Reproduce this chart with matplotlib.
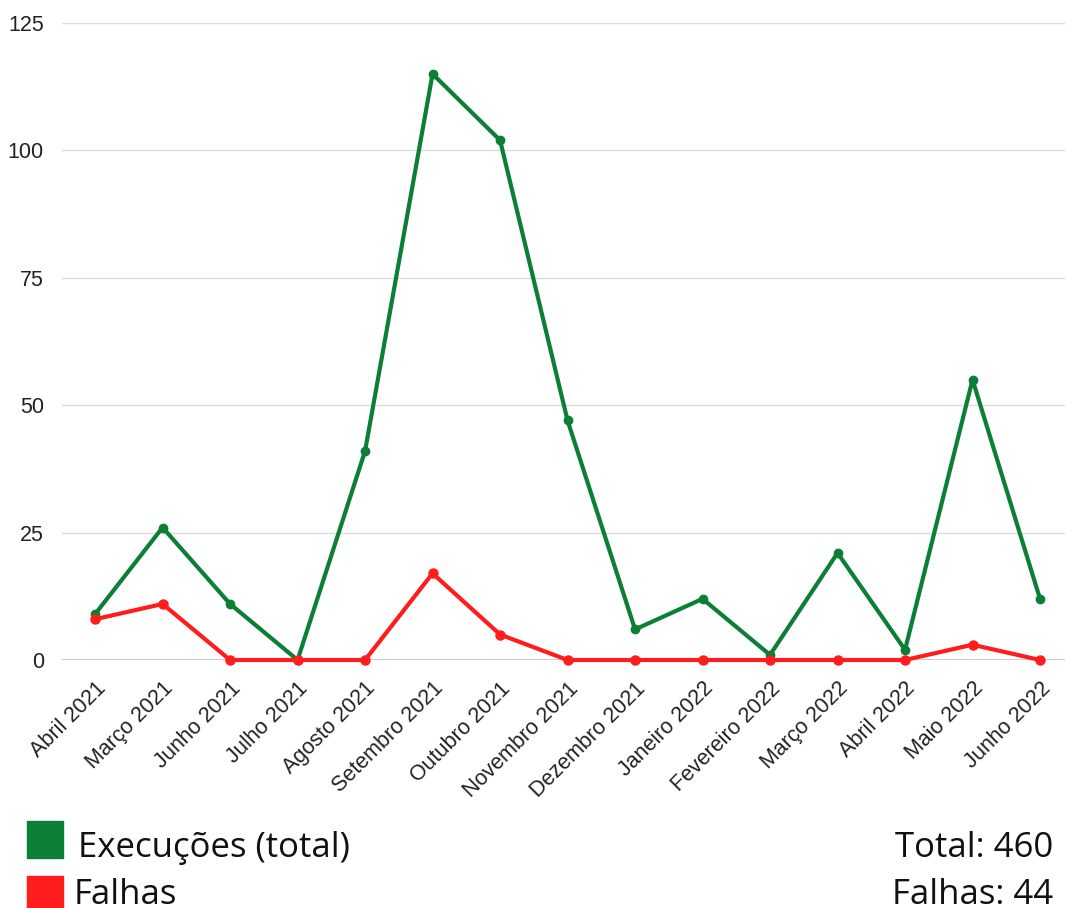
import matplotlib.pyplot as plt
from matplotlib.patches import Rectangle

# monthly data
months = ['Abril 2021', 'Março 2021', 'Junho 2021', 'Julho 2021', 'Agosto 2021',
          'Setembro 2021', 'Outubro 2021', 'Novembro 2021', 'Dezembro 2021',
          'Janeiro 2022', 'Fevereiro 2022', 'Março 2022', 'Abril 2022',
          'Maio 2022', 'Junho 2022']
execucoes = [9, 26, 11, 0, 41, 115, 102, 47, 6, 12, 1, 21, 2, 55, 12]
falhas = [8, 11, 0, 0, 0, 17, 5, 0, 0, 0, 0, 0, 0, 3, 0]
yticks = [0, 25, 50, 75, 100, 125]

green = '#0a7f35'
red = '#ff1c1c'

fig = plt.figure(figsize=(10.65, 9.08), dpi=100)
ax = fig.add_axes([62 / 1065, 248 / 908, 1003 / 1065, 637 / 908])

x = list(range(len(months)))
ax.plot(x, execucoes, color=green, lw=3, marker='o', ms=6, zorder=3, clip_on=False)
ax.plot(x, falhas, color=red, lw=3, marker='o', ms=6.5, zorder=4, clip_on=False)

ax.set_xlim(-0.49, 14.37)
ax.set_ylim(0, 125)
ax.set_yticks(yticks)
ax.set_xticks(x)
ax.set_xticklabels(months, rotation=45, ha='right', rotation_mode='anchor',
                   fontsize=15.5, family='Liberation Sans', color='#222222')
for lab in ax.get_yticklabels():
    lab.set_family('Liberation Sans')
ax.tick_params(axis='y', labelsize=15.5, length=0, pad=13, colors='#222222')
ax.tick_params(axis='x', length=0, pad=13)
ax.grid(axis='y', color='#dcdcdc', lw=1)
ax.axhline(0, color='#c0c0c0', lw=1.2, zorder=1)
for s in ax.spines.values():
    s.set_visible(False)

# legend at the bottom
fig.patches.append(Rectangle((27 / 1065, 50 / 908), 36 / 1065, 37 / 908,
                             transform=fig.transFigure, color=green))
fig.patches.append(Rectangle((27 / 1065, -5 / 908), 36 / 1065, 37 / 908,
                             transform=fig.transFigure, color=red))
fig.text(78 / 1065, 51 / 908, 'Execuções (total)', fontsize=25,
         family='Open Sans', va='baseline', color='#111111')
fig.text(74 / 1065, 4 / 908, 'Falhas', fontsize=25,
         family='Open Sans', va='baseline', color='#111111')
fig.text(1053 / 1065, 51 / 908, 'Total: %d' % sum(execucoes), fontsize=25,
         family='Open Sans', va='baseline', ha='right', color='#111111')
fig.text(1053 / 1065, 4 / 908, 'Falhas: %d' % sum(falhas), fontsize=25,
         family='Open Sans', va='baseline', ha='right', color='#111111')

fig.savefig('out.png', dpi=100)
